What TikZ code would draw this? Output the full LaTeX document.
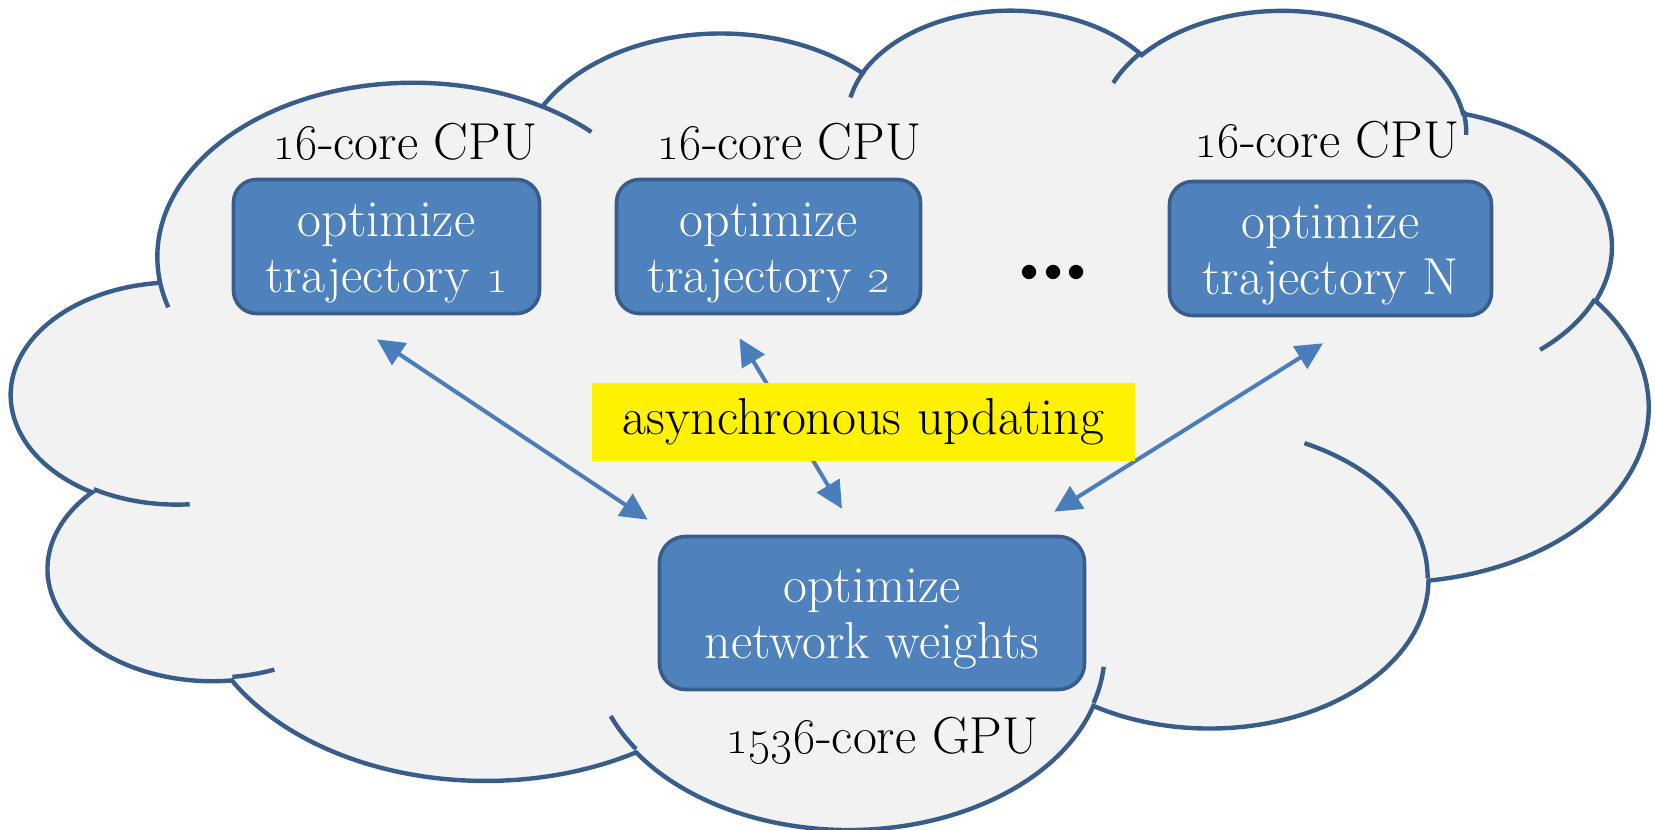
\documentclass[tikz,border=0pt]{standalone}
\usepackage{tikz}
\usetikzlibrary{arrows.meta}

\definecolor{cloudfill}{RGB}{242,242,242}
\definecolor{cloudline}{RGB}{56,93,138}
\definecolor{boxfill}{RGB}{79,129,189}
\definecolor{linkblue}{RGB}{74,126,187}

% arc with radii and visual angles (degrees) of a preset cloud outline
\pgfmathdeclarefunction{ooang}{3}{\pgfmathparse{atan2((#2)*sin(#1),(#3)*cos(#1))}}
\newcommand\cloudarc[4]{arc[x radius=#1, y radius=#2, start angle={ooang(#3,#1,#2)}, delta angle={mod(ooang(#3+#4,#1,#2)-ooang(#3,#1,#2)+720,360)}]}
\newcommand\firstline{\rule{0pt}{23pt}}
\newcommand\dotbox{\makebox[11.75pt]{\textbullet}}

\begin{document}
\begin{tikzpicture}[x=0.5pt,y=0.5pt,yscale=-1,
  every node/.style={font=\fontsize{26}{28}\selectfont},
  cloud/.style={draw=cloudline,fill=cloudfill,line width=2.2pt},
  cloudedge/.style={draw=cloudline,line width=2.2pt},
  task/.style={draw=cloudline,fill=boxfill,line width=1.8pt,rounded corners=11.5pt,text=white,align=center,minimum height=67pt,inner sep=0pt},
  lbl/.style={inner sep=0pt},
  note/.style={fill=yellow,minimum width=271.5pt,minimum height=39pt,inner sep=0pt},
  link/.style={draw=linkblue,line width=2pt,{Triangle[length=13.5pt,width=13pt]}-{Triangle[length=13.5pt,width=13pt]}}]
\useasboundingbox (0,0) rectangle (1655,830);

%Shape: Cloud
\begin{scope}[shift={(12,8)},xscale=1636/432,yscale=819/432]
\draw[cloud] (39.00,143.70) \cloudarc{67.53}{91.90}{-190.4875}{123.7805}
  \cloudarc{53.33}{72.67}{-144.1024}{89.9452}
  \cloudarc{43.65}{59.45}{-145.8079}{99.7230}
  \cloudarc{48.57}{65.95}{-130.9861}{117.2417}
  \cloudarc{53.33}{72.73}{-78.7089}{109.0269}
  \cloudarc{67.75}{92.20}{-46.2673}{130.2690}
  \cloudarc{57.85}{78.67}{0.6250}{114.0333}
  \cloudarc{67.52}{92.15}{22.4516}{115.1726}
  \cloudarc{77.20}{105.43}{66.2426}{75.7110}
  \cloudarc{43.60}{59.18}{-274.9421}{146.7356}
  \cloudarc{43.45}{59.45}{-246.8285}{152.5189} -- cycle;
%inner edges
\draw[cloudedge] (46.93,261.77) \cloudarc{43.45}{59.45}{86.7420}{26.4295}
  (69.28,348.99) \cloudarc{43.60}{59.18}{73.6105}{11.4475}
  (164.78,390.90) \cloudarc{67.52}{92.15}{137.6242}{14.0811}
  (288.27,347.51) \cloudarc{67.52}{92.15}{6.4533}{15.9984}
  (341.29,229.54) \cloudarc{57.85}{78.67}{-70.2924}{70.9174}
  (417.98,153.54) \cloudarc{53.33}{72.73}{30.3180}{27.7515}
  (383.24,54.26) \cloudarc{48.57}{65.95}{-13.7443}{14.8589}
  (290.78,39.52) \cloudarc{48.57}{65.95}{-149.1815}{18.1954}
  (221.41,47.20) \cloudarc{43.65}{59.45}{-163.4943}{17.6864}
  (140.00,51.92) \cloudarc{67.53}{91.90}{-66.7070}{12.3194}
  (41.27,157.89) \cloudarc{67.53}{91.90}{157.6544}{11.8582};
\end{scope}

% Text Node
\node[task,minimum width=153pt] (t1) at (386.5,246.5) {\firstline optimize\\trajectory \oldstylenums{1}};
\node[task,minimum width=152pt] (t2) at (768.5,246.5) {\firstline optimize\\trajectory \oldstylenums{2}};
\node[task,minimum width=161pt] (tn) at (1330.5,248.5) {\firstline optimize\\trajectory N};
\node[task,minimum width=212.5pt,minimum height=76.5pt,rounded corners=13pt] (gpu) at (872,613) {\firstline optimize\\network weights};

\node[lbl,anchor=base] (c1) at (405,159) {\oldstylenums{16}-core CPU};
\node[lbl,anchor=base] (c2) at (789,159) {\oldstylenums{16}-core CPU};
\node[lbl,anchor=base] (cn) at (1327,157) {\oldstylenums{16}-core CPU};
\node[lbl,anchor=base] (g) at (882,753) {\oldstylenums{1536}-core GPU};
\node[lbl,anchor=base,font=\fontsize{32}{32}\selectfont] (dots) at (1053,289) {\dotbox\dotbox\dotbox};

%Straight Lines
\draw[link] ([shift={(-9.5,24)}]t1.south) -- ([shift={(-10,-15)}]gpu.north west);
\draw[link] ([shift={(-29,23)}]t2.south) -- ([shift={(-30,-26)}]gpu.north);
\draw[link] ([shift={(-7.5,26)}]tn.south) -- ([shift={(-32,-23)}]gpu.north east);

% Text Node
\node[note] (async) at (863.5,422) {asynchronous updating};

\end{tikzpicture}
\end{document}
